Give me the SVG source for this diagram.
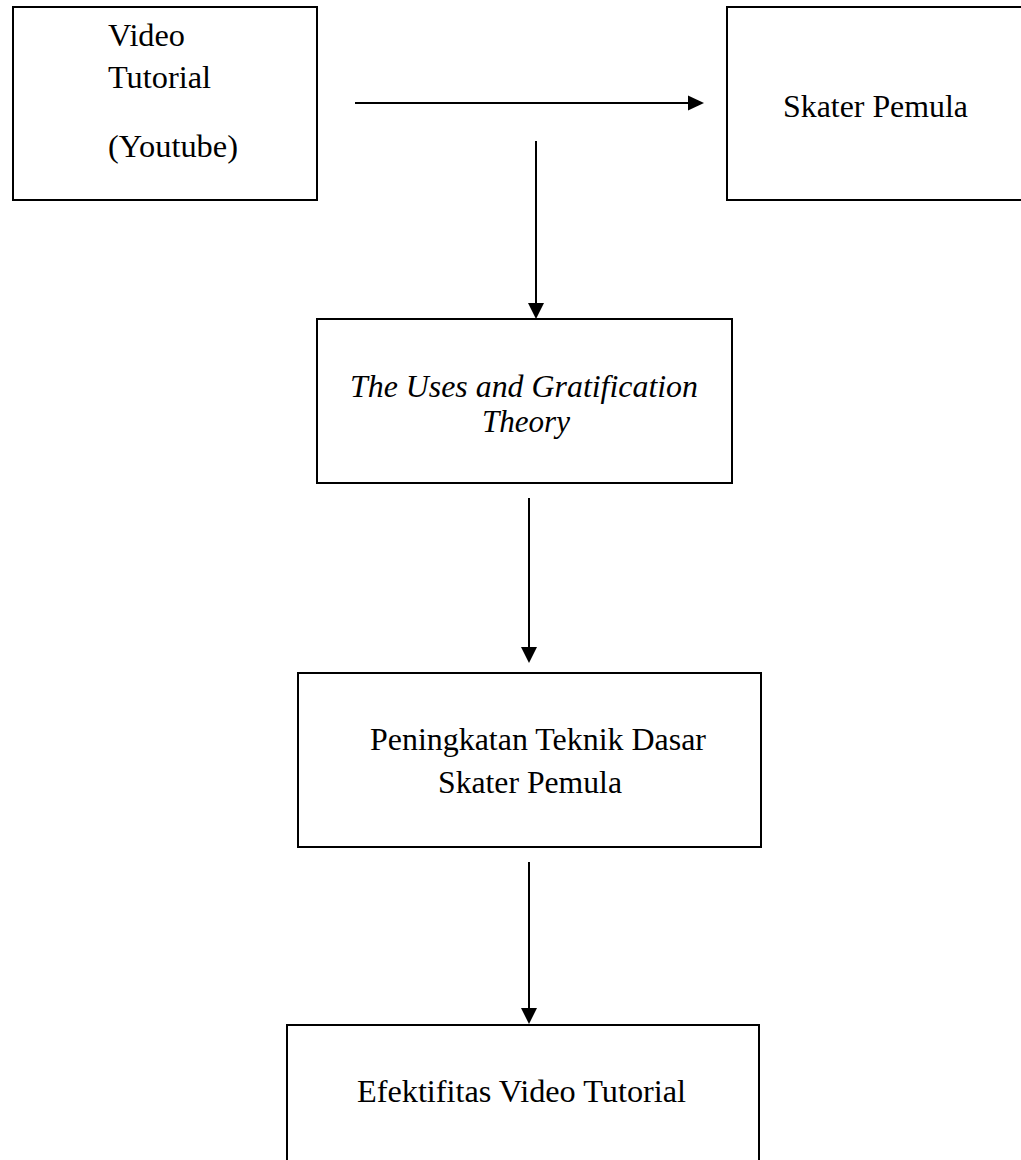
<svg xmlns="http://www.w3.org/2000/svg" width="1021" height="1160" viewBox="0 0 1021 1160">
<style>
.box{fill:#fff;stroke:#000;stroke-width:2}
.ln{stroke:#000;stroke-width:2;fill:none}
.hd{fill:#000}
.t{font-family:'Liberation Serif','Times New Roman',serif;font-size:31.5px;fill:#000}
.it{font-style:italic}
</style>
<rect width="1021" height="1160" fill="#fff"/>
<g id="node-video">
<rect class="box" x="13" y="7" width="304" height="193"/>
<text class="t" x="108" y="46" textLength="77" lengthAdjust="spacingAndGlyphs">Video</text>
<text class="t" x="108" y="88" textLength="103" lengthAdjust="spacingAndGlyphs">Tutorial</text>
<text class="t" x="108" y="157" textLength="130" lengthAdjust="spacingAndGlyphs">(Youtube)</text>
</g>
<g id="node-skater">
<rect class="box" x="727" y="7" width="400" height="193"/>
<text class="t" x="783" y="117" textLength="185" lengthAdjust="spacingAndGlyphs">Skater Pemula</text>
</g>
<g id="node-theory">
<rect class="box" x="317" y="319" width="415" height="164"/>
<text class="t it" x="350" y="397" textLength="348" lengthAdjust="spacingAndGlyphs">The Uses and Gratification</text>
<text class="t it" x="482" y="432" textLength="88" lengthAdjust="spacingAndGlyphs">Theory</text>
</g>
<g id="node-peningkatan">
<rect class="box" x="298" y="673" width="463" height="174"/>
<text class="t" x="370" y="750" textLength="336" lengthAdjust="spacingAndGlyphs">Peningkatan Teknik Dasar</text>
<text class="t" x="438" y="793" textLength="184" lengthAdjust="spacingAndGlyphs">Skater Pemula</text>
</g>
<g id="node-efektifitas">
<rect class="box" x="287" y="1025" width="472" height="200"/>
<text class="t" x="357" y="1102" textLength="329" lengthAdjust="spacingAndGlyphs">Efektifitas Video Tutorial</text>
</g>
<g id="connectors">
<line class="ln" x1="355" y1="103" x2="690" y2="103"/>
<polygon class="hd" points="704,103 688,95.5 688,110.5"/>
<line class="ln" x1="536" y1="141" x2="536" y2="305"/>
<polygon class="hd" points="536,319 528,303 544,303"/>
<line class="ln" x1="529" y1="498" x2="529" y2="649"/>
<polygon class="hd" points="529,663 521,647 537,647"/>
<line class="ln" x1="529" y1="862" x2="529" y2="1010"/>
<polygon class="hd" points="529,1024 521,1008 537,1008"/>
</g>
</svg>
